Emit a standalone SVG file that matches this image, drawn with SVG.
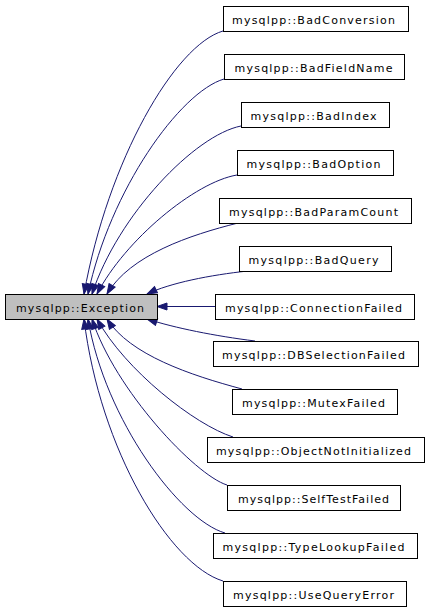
<svg xmlns="http://www.w3.org/2000/svg" width="429" height="611" viewBox="0 0 429 611">
<style>
.box{fill:#ffffff;stroke:#000000;stroke-width:1}
.base{fill:#bfbfbf;stroke:#000000;stroke-width:1}
.lbl{font-family:"DejaVu Sans","Liberation Sans",sans-serif;font-size:11px;fill:#000000;text-anchor:middle}
.edge{fill:none;stroke:#191970;stroke-width:1;marker-end:url(#ah)}
</style>
<defs>
<marker id="ah" markerUnits="userSpaceOnUse" markerWidth="12" markerHeight="9" refX="11" refY="4.5" orient="auto" viewBox="0 0 12 9">
<path d="M1,1 L11,4.5 L1,8 z" fill="#191970" stroke="#191970" stroke-width="1"/>
</marker>
</defs>
<rect width="429" height="611" fill="#ffffff"/>
<g id="connectors">
<path class="edge" d="M223,31 C175,45 108,160 84,294"/>
<path class="edge" d="M224,79 C180,92 110,190 88,294"/>
<path class="edge" d="M241,126 C195,135 118,215 92,294"/>
<path class="edge" d="M237,175 C195,182 125,240 97,294"/>
<path class="edge" d="M238,223 C190,235 130,255 107,294"/>
<path class="edge" d="M248,271 C210,275 170,283 147,294"/>
<path class="edge" d="M215,306.5 L157,306.5"/>
<path class="edge" d="M255,341 C215,336 175,328 147,319"/>
<path class="edge" d="M242,389 C190,375 130,355 107,319"/>
<path class="edge" d="M233,437 C195,425 125,370 97,319"/>
<path class="edge" d="M227,485 C195,475 115,390 92,319"/>
<path class="edge" d="M225,533 C180,520 105,420 88,319"/>
<path class="edge" d="M223,581 C170,565 100,450 84,319"/>
</g>
<g id="Exception"><rect class="base" x="5.5" y="294.5" width="152" height="25"/><text class="lbl" x="80" y="312" textLength="128" lengthAdjust="spacing">mysqlpp::Exception</text></g>
<g id="BadConversion"><rect class="box" x="223.5" y="6.5" width="185" height="25"/><text class="lbl" x="313.5" y="24" textLength="163" lengthAdjust="spacing">mysqlpp::BadConversion</text></g>
<g id="BadFieldName"><rect class="box" x="224.5" y="54.5" width="180" height="25"/><text class="lbl" x="313.5" y="72" textLength="158" lengthAdjust="spacing">mysqlpp::BadFieldName</text></g>
<g id="BadIndex"><rect class="box" x="241.5" y="102.5" width="148" height="25"/><text class="lbl" x="313.5" y="120" textLength="126" lengthAdjust="spacing">mysqlpp::BadIndex</text></g>
<g id="BadOption"><rect class="box" x="237.5" y="150.5" width="156" height="25"/><text class="lbl" x="313.5" y="168" textLength="134" lengthAdjust="spacing">mysqlpp::BadOption</text></g>
<g id="BadParamCount"><rect class="box" x="219.5" y="198.5" width="192" height="25"/><text class="lbl" x="313.5" y="216" textLength="169" lengthAdjust="spacing">mysqlpp::BadParamCount</text></g>
<g id="BadQuery"><rect class="box" x="239.5" y="246.5" width="152" height="25"/><text class="lbl" x="313.5" y="264" textLength="130" lengthAdjust="spacing">mysqlpp::BadQuery</text></g>
<g id="ConnectionFailed"><rect class="box" x="215.5" y="294.5" width="199" height="25"/><text class="lbl" x="313.5" y="312" textLength="177" lengthAdjust="spacing">mysqlpp::ConnectionFailed</text></g>
<g id="DBSelectionFailed"><rect class="box" x="213.5" y="341.5" width="205" height="25"/><text class="lbl" x="313.5" y="359" textLength="183" lengthAdjust="spacing">mysqlpp::DBSelectionFailed</text></g>
<g id="MutexFailed"><rect class="box" x="232.5" y="389.5" width="165" height="25"/><text class="lbl" x="313.5" y="407" textLength="143" lengthAdjust="spacing">mysqlpp::MutexFailed</text></g>
<g id="ObjectNotInitialized"><rect class="box" x="207.5" y="437.5" width="217" height="25"/><text class="lbl" x="313.5" y="455" textLength="195" lengthAdjust="spacing">mysqlpp::ObjectNotInitialized</text></g>
<g id="SelfTestFailed"><rect class="box" x="227.5" y="485.5" width="173" height="25"/><text class="lbl" x="313.5" y="503" textLength="151" lengthAdjust="spacing">mysqlpp::SelfTestFailed</text></g>
<g id="TypeLookupFailed"><rect class="box" x="213.5" y="533.5" width="204" height="25"/><text class="lbl" x="313.5" y="551" textLength="182" lengthAdjust="spacing">mysqlpp::TypeLookupFailed</text></g>
<g id="UseQueryError"><rect class="box" x="223.5" y="581.5" width="183" height="25"/><text class="lbl" x="313.5" y="599" textLength="161" lengthAdjust="spacing">mysqlpp::UseQueryError</text></g>
</svg>
